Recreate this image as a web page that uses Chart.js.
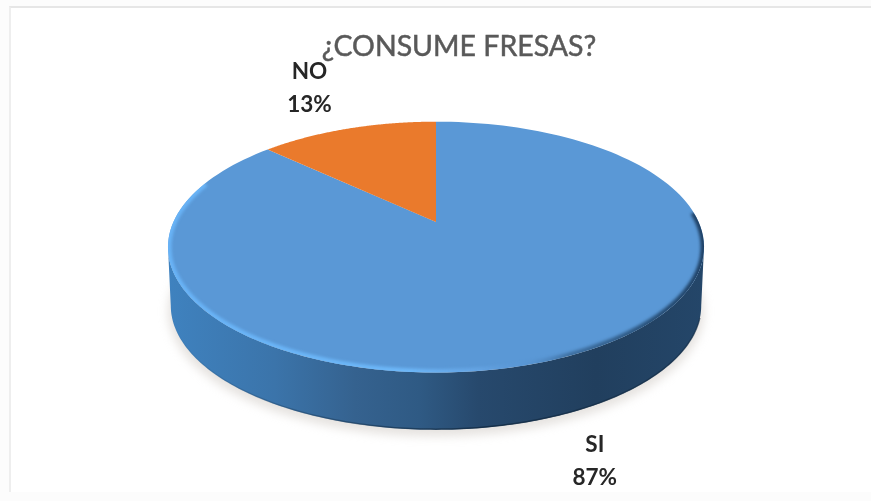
<!DOCTYPE html>
<html>
<head>
<meta charset="utf-8">
<style>
  html, body { margin: 0; padding: 0; background: #fff; }
  #wrap { position: relative; width: 871px; height: 501px; overflow: hidden; background: #fcfcfc; }
  #frame { position: absolute; left: 9px; top: 6px; width: 880px; height: 484px;
           border-top: 2px solid #e6e6e6; border-left: 2px solid #eeeeee;
           background: #fff; }
  #pie { position: absolute; left: 0; top: 0; }
</style>
</head>
<body>
<div id="wrap">
  <div id="frame"></div>
  <canvas id="pie" width="871" height="501"></canvas>
</div>
<script src="https://cdn.jsdelivr.net/npm/chart.js@4/dist/chart.umd.min.js"></script>
<script>
var chartTitle = "¿CONSUME FRESAS?";
var categories = ["SI", "NO"];
var percents = [87, 13];
var sliceColors = ["#5a98d6", "#ea7a2c"];

// the disc is seen from above: near side bigger than the far side
var faceRadius = 262.6;
var tilt = 0.4585;
var persp = 0.2;
var wallDepth = 59;

function project(el, angle, f, dy) {
  var x = f * Math.cos(angle), y = f * Math.sin(angle);
  var w = 1 - persp * y;
  return { x: el.x + faceRadius * x / w, y: el.y + faceRadius * tilt * y / w + (dy || 0) };
}

function tracePath(ctx, el, from, to, f, dy, join) {
  var steps = 160;
  for (var i = 0; i <= steps; i++) {
    var p = project(el, from + (to - from) * i / steps, f, dy);
    if (i === 0 && !join) ctx.moveTo(p.x, p.y);
    else ctx.lineTo(p.x, p.y);
  }
}

function drawShadow(ctx, el) {
  ctx.save();
  ctx.filter = "blur(5px)";
  ctx.fillStyle = "rgba(196,188,180,0.42)";
  ctx.beginPath();
  tracePath(ctx, el, 0, Math.PI * 2, 1.0, wallDepth + 5);
  ctx.closePath();
  ctx.fill();
  ctx.restore();
}

function drawWall(ctx, el) {
  var g = ctx.createLinearGradient(168, 0, 703, 0);
  g.addColorStop(0, "#3f82bf");
  g.addColorStop(0.2, "#3b74aa");
  g.addColorStop(0.35, "#35628f");
  g.addColorStop(0.47, "#2f5a84");
  g.addColorStop(0.58, "#27496d");
  g.addColorStop(0.8, "#213f5e");
  g.addColorStop(1, "#244669");
  ctx.fillStyle = g;
  ctx.beginPath();
  tracePath(ctx, el, 0.2, Math.PI - 0.2, 1, 0);
  tracePath(ctx, el, Math.PI - 0.2, 0.2, 0.99, wallDepth, true);
  ctx.closePath();
  ctx.fill();

  // darker line where the wall meets the ground
  var edge = ctx.createLinearGradient(168, 0, 703, 0);
  edge.addColorStop(0, "rgba(26,58,88,0)");
  edge.addColorStop(0.3, "rgba(26,58,88,0.5)");
  edge.addColorStop(0.6, "rgba(20,45,70,0.9)");
  edge.addColorStop(1, "rgba(20,45,70,0.6)");
  ctx.strokeStyle = edge;
  ctx.lineWidth = 1.5;
  ctx.beginPath();
  tracePath(ctx, el, 0.3, Math.PI - 0.3, 0.99, wallDepth - 0.5);
  ctx.stroke();
}

function drawSlice(ctx, el) {
  ctx.fillStyle = el.options.backgroundColor;
  ctx.beginPath();
  ctx.moveTo(el.x, el.y);
  tracePath(ctx, el, el.startAngle, el.endAngle, 1, 0, true);
  ctx.closePath();
  ctx.fill();
}

// soft rim round the front of the top face, light on the left and dark on the right
function drawRim(ctx, el) {
  var g = ctx.createLinearGradient(168, 0, 703, 0);
  g.addColorStop(0, "rgba(106,182,250,0.9)");
  g.addColorStop(0.45, "rgba(110,185,250,0.95)");
  g.addColorStop(0.58, "rgba(110,175,240,0.5)");
  g.addColorStop(0.66, "rgba(90,150,214,0.2)");
  g.addColorStop(0.75, "rgba(40,80,120,0.55)");
  g.addColorStop(0.9, "rgba(30,65,100,0.8)");
  g.addColorStop(1, "rgba(28,60,95,0.95)");
  ctx.save();
  ctx.beginPath();
  tracePath(ctx, el, 0, Math.PI * 2, 1, 0);
  ctx.closePath();
  ctx.clip();
  ctx.filter = "blur(1.5px)";
  ctx.strokeStyle = g;
  ctx.lineWidth = 7;
  ctx.beginPath();
  tracePath(ctx, el, -0.08, Math.PI + 0.35, 1, 0);
  ctx.stroke();
  ctx.restore();
}

var discPlugin = {
  id: "disc",
  beforeDatasetDraw: function (chart) {
    var ctx = chart.ctx;
    var arcs = chart.getDatasetMeta(0).data;
    ctx.save();
    drawShadow(ctx, arcs[0]);
    drawWall(ctx, arcs[0]);
    arcs.forEach(function (el) { drawSlice(ctx, el); });
    drawRim(ctx, arcs[0]);
    ctx.restore();
    return false;
  }
};

// label distance from the centre, in radii, and how far it drops below the face
var labelSpots = [{ f: 1.19, dy: 71 }, { f: 1.56, dy: 0 }];

var textPlugin = {
  id: "texts",
  afterDatasetsDraw: function (chart) {
    var ctx = chart.ctx;
    var arcs = chart.getDatasetMeta(0).data;
    ctx.save();
    ctx.textAlign = "center";
    ctx.textBaseline = "middle";
    ctx.fillStyle = "#595959";
    ctx.strokeStyle = "#595959";
    ctx.lineWidth = 0.5;
    ctx.font = "28.5px Lato";
    ctx.fillText(chartTitle, 459, 47);
    ctx.strokeText(chartTitle, 459, 47);
    ctx.fillStyle = "#262626";
    ctx.font = "bold 22.5px Lato";
    arcs.forEach(function (el, i) {
      var p = project(el, (el.startAngle + el.endAngle) / 2, labelSpots[i].f, labelSpots[i].dy);
      ctx.fillText(categories[i], p.x, p.y - 16);
      ctx.fillText(percents[i] + "%", p.x, p.y + 17);
    });
    ctx.restore();
  }
};

var pieCtx = document.getElementById("pie").getContext("2d");
var pieChart = new Chart(pieCtx, {
  type: "pie",
  data: {
    labels: categories,
    datasets: [{ data: percents, backgroundColor: sliceColors, borderWidth: 0 }]
  },
  options: {
    responsive: false,
    animation: false,
    layout: { padding: { left: 1, bottom: 57 } },
    plugins: { legend: { display: false }, tooltip: { enabled: false } }
  },
  plugins: [discPlugin, textPlugin]
});
</script>
</body>
</html>
